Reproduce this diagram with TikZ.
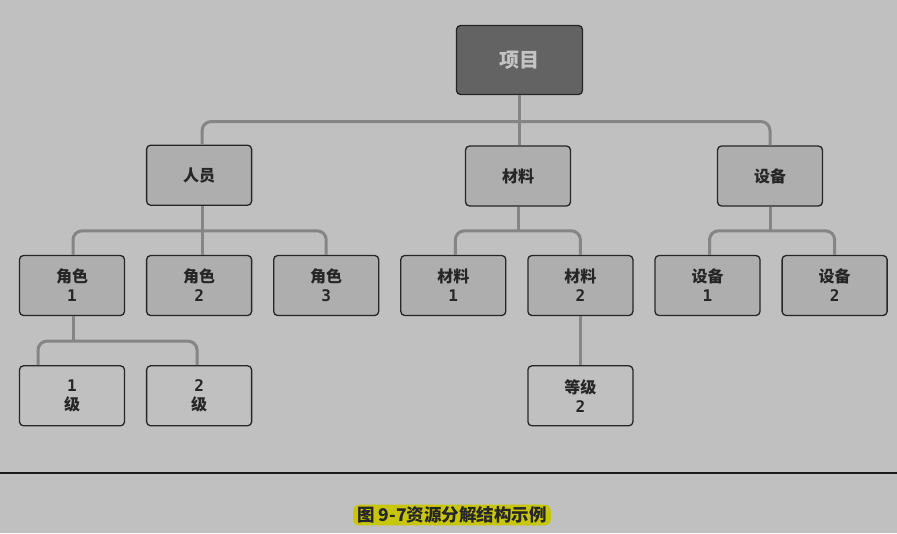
\documentclass[tikz,border=0pt]{standalone}
\usepackage{fontspec}
\newfontfamily\cjk{Noto Sans CJK SC}
\newfontfamily\digits{DejaVu Sans Mono}
\usetikzlibrary{positioning}
\definecolor{bg}{HTML}{C0C0C0}
\definecolor{boxfill}{HTML}{AEAEAE}
\definecolor{boxline}{HTML}{262626}
\definecolor{topfill}{HTML}{636363}
\definecolor{toptext}{HTML}{C4C4C4}
\definecolor{linkgray}{HTML}{858585}
\definecolor{capyellow}{HTML}{C8C60A}

\begin{document}
\begin{tikzpicture}[x=1pt, y=-1pt, node distance=49pt and 20.8pt,
  box/.style={draw=boxline, line width=1.3pt, rounded corners=4pt, fill=boxfill,
    minimum width=105pt, minimum height=60pt, inner sep=0pt, align=center,
    text=black!85, font=\cjk\bfseries\fontsize{16}{19}\selectfont},
  leaf/.style={box, fill=bg},
  link/.style={draw=linkgray, line width=3pt, rounded corners=9pt}]
  \fill[bg] (0,0) rectangle (897,533);
  \useasboundingbox (0,0) rectangle (897,533);

  % top of the tree
  \node[box, fill=topfill, text=toptext, minimum width=126pt, minimum height=69pt,
    font=\cjk\bfseries\fontsize{20}{24}\selectfont] (proj) at (519.5,60) {项目};

  % second row
  \node[box] (role1) at (72,285.5) {角色\\{\digits 1}};
  \node[box] (role2) [right=of role1] {角色\\{\digits 2}};
  \node[box] (role3) [right=of role2] {角色\\{\digits 3}};
  \node[box] (mat1) [right=of role3] {材料\\{\digits 1}};
  \node[box] (mat2) [right=of mat1] {材料\\{\digits 2}};
  \node[box] (eq1) [right=of mat2] {设备\\{\digits 1}};
  \node[box] (eq2) [right=of eq1] {设备\\{\digits 2}};

  % first row
  \node[box] (staff) [above=of role2] {人员};
  \node[box] (mat) at (518,176) {材料};
  \node[box] (equip) at (770,176) {设备};

  % third row
  \node[leaf] (lv1) [below=of role1] {{\digits 1}\\级};
  \node[leaf] (lv2) [below=of role2] {{\digits 2}\\级};
  \node[leaf] (grade2) [below=of mat2] {等级\\{\digits 2}};

  \draw[link] (proj.south) -- (proj.south |- mat.north);
  \draw[link] ([xshift=3pt]staff.north) -- ++(0,-23) -| (equip.north);
  \draw[link] ([xshift=3pt]staff.south) -- ([xshift=3pt]role2.north);
  \draw[link] ([xshift=1pt]role1.north) -- ++(0,-24) -| (role3.north);
  \draw[link] (mat.south) -- ++(0,25);
  \draw[link] ([xshift=2pt]mat1.north) -- ++(0,-24) -| (mat2.north);
  \draw[link] (equip.south) -- ++(0,25);
  \draw[link] ([xshift=2pt]eq1.north) -- ++(0,-24) -| (eq2.north);
  \draw[link] ([xshift=1pt]role1.south) -- ++(0,25);
  \draw[link] ([xshift=-34pt]lv1.north) -- ++(0,-24) -| ([xshift=-2pt]lv2.north);
  \draw[link] (mat2.south) -- (grade2.north);

  % caption
  \draw[line width=2pt, black!90] (0,473) -- (897,473);
  \node[fill=capyellow, rounded corners=6pt, inner xsep=4pt, inner ysep=2pt,
    text=black!85, font=\cjk\bfseries\fontsize{17.5}{20}\selectfont] (cap) at (452,515)
    {图 9-7资源分解结构示例};
\end{tikzpicture}
\end{document}
